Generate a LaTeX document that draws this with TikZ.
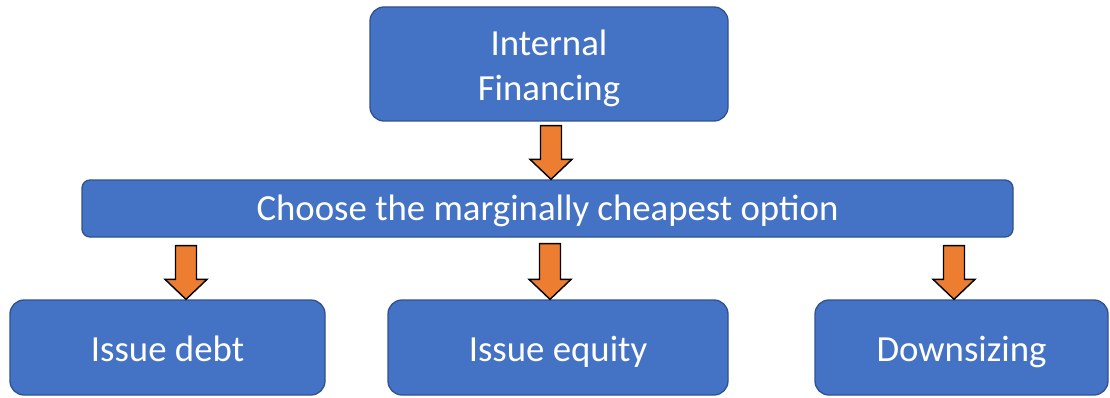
\documentclass[tikz,border=0pt]{standalone}
\usepackage{fontspec}
\setmainfont{Carlito}
\usetikzlibrary{calc}
\definecolor{boxblue}{HTML}{4472C4}
\definecolor{boxedge}{HTML}{2F528F}
\definecolor{arroworange}{HTML}{ED7D31}
\begin{document}
\begin{tikzpicture}[x=1pt,y=1pt,
  box/.style={draw=boxedge, line width=1.3pt, fill=boxblue, rounded corners=#1,
    text=white, align=center, inner sep=0pt,
    font=\fontsize{36.8}{45}\selectfont},
  box/.default=14pt,
  oneline/.style={text height=#1, text depth=0pt},
  oneline/.default=27pt,
  fatarrow/.style={draw=black, line width=1.4pt, fill=arroworange, line join=miter,
    to path={let \p1=(\tikztostart), \p2=(\tikztotarget) in
      (\x2-10.5pt,\y1) -- (\x2+10.5pt,\y1) -- (\x2+10.5pt,\y2+20pt)
      -- (\x2+21pt,\y2+20pt) -- (\x2,\y2) -- (\x2-21pt,\y2+20pt)
      -- (\x2-10.5pt,\y2+20pt) -- cycle}}]
\useasboundingbox (0,0) rectangle (1110,397);
\fill[white] (0,0) rectangle (1110,397);

% boxes
\node[box, minimum width=358pt, minimum height=114pt] (top) at (549,333)
  {\rule{0pt}{34pt}Internal\\Financing};
\node[box=8pt, oneline=23pt, minimum width=931pt, minimum height=57pt] (mid) at (547.5,188.5)
  {Choose the marginally cheapest option};
\node[box, oneline, minimum width=315pt, minimum height=95pt] (debt) at (167.5,49.5)
  {Issue debt};
\node[box, oneline, minimum width=340pt, minimum height=95pt] (equity) at (558,49.5)
  {Issue equity};
\node[box, oneline, minimum width=293pt, minimum height=95pt] (down) at (961.5,49.5)
  {Downsizing};

% block arrows
\draw[fatarrow] ([yshift=-4pt]top.south) to ([xshift=3.5pt]mid.north);
\draw[fatarrow] ([xshift=-361.5pt,yshift=-8pt]mid.south) to ([xshift=18.5pt]debt.north);
\draw[fatarrow] ([yshift=-6pt]mid.south) to ([xshift=-8pt]equity.north);
\draw[fatarrow] ([xshift=406pt,yshift=-8pt]mid.south) to ([xshift=-7.5pt]down.north);
\end{tikzpicture}
\end{document}
